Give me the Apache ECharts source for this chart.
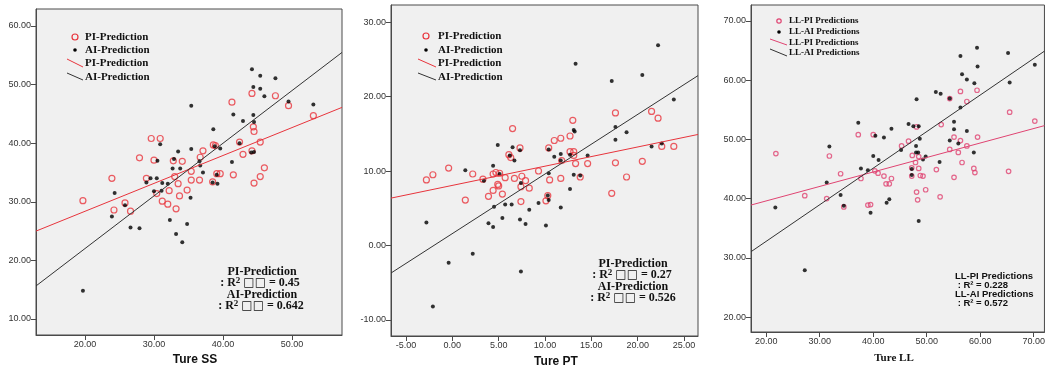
<!DOCTYPE html>
<html>
<head>
<meta charset="utf-8">
<script src="https://cdn.jsdelivr.net/npm/echarts@6/dist/echarts.min.js"></script>
<style>
  html, body { margin: 0; padding: 0; background: #fff; }
  #chart { width: 1048px; height: 370px; }
</style>
</head>
<body>
<div id="chart"></div>
<script>
// panel 1 : Ture SS
const ssPI = [[23.9,34.0],[27.9,37.5],[29.6,40.8],[30.9,40.8],[30.0,37.1],[28.9,34.0],[32.8,37.0],[34.1,36.9],[33.0,34.3],[35.4,35.2],[35.4,33.7],[36.7,37.6],[37.1,38.7],[38.6,39.7],[38.9,39.6],[39.1,34.8],[39.6,34.8],[38.5,33.4],[36.6,33.7],[41.3,47.0],[42.4,40.2],[42.9,38.1],[41.5,34.6],[44.2,48.5],[44.4,42.8],[44.5,42.0],[44.2,38.7],[45.4,40.2],[46.0,35.8],[45.4,34.3],[44.5,33.2],[47.6,48.1],[49.5,46.4],[53.1,44.7],[33.5,33.1],[19.7,30.2],[24.2,28.6],[25.8,29.8],[26.6,28.4],[30.4,31.4],[31.2,30.1],[32.0,29.6],[32.2,31.9],[33.2,28.8],[33.7,31.0],[34.8,32.0]];
const ssAI = [[44.2,52.6],[45.4,51.5],[47.6,51.1],[44.4,49.6],[45.4,49.3],[46.0,48.0],[49.5,47.1],[53.1,46.6],[35.4,46.4],[41.5,44.9],[42.9,43.8],[44.4,44.8],[44.5,43.6],[38.6,42.4],[42.4,40.0],[38.8,39.5],[39.6,39.1],[35.4,39.0],[30.9,39.8],[33.5,38.6],[44.1,38.4],[44.5,38.5],[30.5,37.0],[32.9,37.3],[36.6,36.9],[41.3,36.8],[36.7,36.2],[32.7,35.7],[33.8,35.7],[37.1,35.0],[39.1,34.6],[29.5,34.0],[30.4,34.0],[28.9,33.3],[31.2,33.2],[32.0,33.1],[38.5,33.3],[39.2,33.1],[24.3,31.5],[23.9,27.5],[25.8,29.4],[26.6,25.6],[27.9,25.5],[30.0,31.8],[31.1,31.9],[32.3,26.9],[33.2,24.5],[34.1,23.1],[34.8,26.2],[35.3,30.7],[19.7,14.8]];
// panel 2 : Ture PT
const ptPI = [[-2.8,8.8],[-2.1,9.5],[-0.4,10.4],[2.2,9.6],[3.3,8.9],[4.4,9.6],[4.7,9.8],[5.1,9.7],[5.7,9.1],[4.9,8.2],[6.1,12.2],[6.3,11.8],[6.5,15.7],[7.3,13.1],[6.7,9.0],[7.5,9.3],[7.9,8.7],[9.3,10.0],[10.4,13.1],[10.5,8.8],[11.0,14.1],[11.7,14.4],[11.7,9.0],[11.8,11.4],[12.7,14.7],[13.0,16.8],[12.7,12.6],[13.1,12.6],[13.1,12.1],[13.3,11.0],[13.8,9.2],[14.6,11.0],[17.6,17.8],[17.6,11.1],[18.8,9.2],[20.5,11.3],[21.5,18.0],[22.2,17.1],[22.6,13.3],[23.9,13.3],[1.4,6.1],[3.9,6.6],[4.4,7.4],[5.0,8.0],[5.4,6.9],[7.4,5.9],[7.4,7.9],[8.3,7.7],[10.1,6.0],[10.3,6.7],[17.2,7.0]];
const ptAI = [[1.4,10.1],[3.4,8.7],[4.4,10.7],[4.9,13.5],[5.1,9.6],[6.2,12.1],[6.5,13.2],[6.7,11.4],[7.3,12.8],[7.4,8.4],[10.4,12.9],[10.4,9.7],[11.0,11.9],[11.7,12.3],[11.7,11.4],[12.7,12.2],[13.1,15.5],[13.2,15.3],[13.3,24.4],[13.1,9.5],[13.8,9.4],[14.6,12.1],[17.2,22.1],[17.6,15.9],[17.6,14.2],[18.8,15.2],[20.5,22.9],[21.5,13.3],[22.2,26.9],[22.6,13.7],[23.9,19.6],[-2.8,3.1],[-0.4,-2.3],[-2.1,-8.2],[2.2,-1.1],[3.9,3.0],[4.4,2.5],[4.5,5.2],[5.4,3.7],[5.7,5.5],[6.4,5.5],[7.3,3.5],[7.4,-3.5],[7.9,2.9],[8.3,4.8],[9.3,5.7],[10.1,2.7],[10.3,6.7],[10.4,6.1],[11.7,5.1],[12.7,7.6]];
// panel 3 : Ture LL
const llPI = [[21.8,47.6],[31.8,47.2],[33.9,44.2],[37.2,50.8],[40.0,50.8],[40.3,44.7],[40.9,44.3],[42.0,43.8],[43.4,43.4],[37.7,43.4],[42.4,42.5],[43.0,42.5],[45.3,48.9],[46.6,49.7],[47.3,47.3],[47.2,45.2],[47.9,46.1],[48.1,52.1],[48.5,47.1],[48.5,45.1],[48.8,43.9],[49.3,43.8],[47.2,43.8],[51.8,44.9],[52.7,52.5],[54.3,56.9],[54.3,48.3],[55.1,50.4],[55.1,43.6],[55.9,47.8],[56.3,58.1],[56.3,49.8],[56.6,46.1],[57.5,56.4],[57.5,48.9],[58.8,45.1],[59.0,44.4],[59.4,58.3],[59.5,50.4],[65.5,54.6],[65.3,44.6],[70.2,53.1],[27.2,40.5],[31.3,40.0],[34.5,38.6],[39.0,38.9],[39.5,39.0],[48.1,41.1],[49.8,41.5],[48.3,39.8],[52.5,40.3]];
const llAI = [[31.8,48.8],[31.3,42.7],[37.2,52.8],[37.7,45.1],[39.0,44.8],[40.4,50.6],[40.0,47.2],[41.0,46.5],[42.0,50.3],[43.4,51.8],[45.2,48.2],[46.6,52.6],[47.5,52.2],[48.5,52.2],[48.1,56.8],[48.0,48.9],[48.7,50.1],[48.0,47.8],[48.4,47.8],[49.3,46.6],[49.8,47.1],[47.2,45.0],[47.2,44.0],[51.7,58.0],[52.6,57.7],[52.4,46.2],[54.3,56.9],[54.3,49.8],[55.1,53.0],[55.1,51.7],[55.9,49.3],[56.3,64.1],[56.3,55.4],[56.6,61.0],[57.5,60.1],[57.5,51.4],[58.9,59.5],[58.8,47.8],[59.4,65.5],[59.5,62.3],[65.2,64.6],[65.5,59.6],[70.2,62.6],[21.7,38.5],[27.2,27.9],[33.9,40.6],[34.5,38.8],[39.5,37.6],[42.5,39.3],[43.0,39.9],[48.5,36.2]];

// fit lines [intercept, slope]
const ssFitPI = [18.86, 0.476];
const ssFitAI = [4.05, 0.8985];
const ptFitPI = [8.07, 0.258];
const ptFitAI = [1.6, 0.80];
const llFitPI = [34.72, 0.2445];
const llFitAI = [20.44, 0.6176];

// tick labels
const ssXTicks = [20, 30, 40, 50];
const ssYTicks = [10, 20, 30, 40, 50, 60];
const ptXTicks = [-5, 0, 5, 10, 15, 20, 25];
const ptYTicks = [-10, 0, 10, 20, 30];
const llXTicks = [20, 30, 40, 50, 60, 70];
const llYTicks = [20, 30, 40, 50, 60, 70];

const panels = [
  { grid: { left: 36, right: 706, top: 9, bottom: 35 },
    x: [12.9, 57.25], y: [7.27, 62.9], xt: ssXTicks, yt: ssYTicks,
    pi: ssPI, ai: ssAI, fpi: ssFitPI, fai: ssFitAI,
    red: '#e8343c', r: 6, dot: 4 },
  { grid: { left: 391, right: 350, top: 5, bottom: 34 },
    x: [-6.62, 26.51], y: [-12.15, 32.29], xt: ptXTicks, yt: ptYTicks,
    pi: ptPI, ai: ptAI, fpi: ptFitPI, fai: ptFitAI,
    red: '#e8343c', r: 6, dot: 4 },
  { grid: { left: 751, right: -5, top: 5, bottom: 38 },
    x: [17.15, 72.0], y: [17.47, 72.7], xt: llXTicks, yt: llYTicks,
    pi: llPI, ai: llAI, fpi: llFitPI, fai: llFitAI,
    red: '#e04472', r: 4.5, dot: 4 }
];

const fmt = v => v.toFixed(2);
const grids = [], xAxes = [], yAxes = [], series = [];

panels.forEach((p, i) => {
  grids.push(Object.assign({ show: true, backgroundColor: '#f0f0f0', borderColor: '#4a4a4a', borderWidth: 1 }, p.grid));
  const axisCommon = {
    gridIndex: i,
    type: 'value',
    splitLine: { show: false },
    axisLine: { show: true, onZero: false, lineStyle: { color: '#4a4a4a', width: 1 } },
    axisTick: { show: true, length: 5, lineStyle: { color: '#4a4a4a' } },
    axisLabel: { fontFamily: 'Liberation Sans', fontSize: 9, color: '#333', margin: 5, formatter: fmt }
  };
  xAxes.push(Object.assign({}, axisCommon, {
    min: p.x[0], max: p.x[1],
    axisTick: Object.assign({}, axisCommon.axisTick, { customValues: p.xt }),
    axisLabel: Object.assign({}, axisCommon.axisLabel, { customValues: p.xt })
  }));
  yAxes.push(Object.assign({}, axisCommon, {
    min: p.y[0], max: p.y[1],
    axisTick: Object.assign({}, axisCommon.axisTick, { customValues: p.yt }),
    axisLabel: Object.assign({}, axisCommon.axisLabel, { customValues: p.yt })
  }));
  series.push({
    type: 'scatter', xAxisIndex: i, yAxisIndex: i, data: p.pi,
    symbol: 'circle', symbolSize: p.r,
    itemStyle: { color: 'rgba(0,0,0,0)', borderColor: p.red, borderWidth: 1.2 }
  });
  series.push({
    type: 'scatter', xAxisIndex: i, yAxisIndex: i, data: p.ai,
    symbol: 'circle', symbolSize: p.dot,
    itemStyle: { color: '#000' }
  });
  const fitLine = (f, color) => ({
    type: 'line', xAxisIndex: i, yAxisIndex: i, symbol: 'none', silent: true,
    data: p.x.map(x => [x, f[0] + f[1] * x]),
    lineStyle: { color: color, width: 1 }
  });
  series.push(fitLine(p.fpi, p.red));
  series.push(fitLine(p.fai, '#333'));
});

const serifB = 'bold 11px "Liberation Serif"';
function txt(x, y, text, font, align) {
  return { type: 'text', x: x, y: y, z: 10,
    style: { text: text, font: font, fill: '#111', align: align || 'left', verticalAlign: 'middle' } };
}
// R² line with the missing-glyph boxes seen in the original
function r2(x, y, value) {
  return { type: 'text', x: x, y: y, z: 10,
    style: {
      text: ': R{sup|2} {box|□□} = ' + value,
      font: 'bold 12px "Liberation Serif"', fill: '#111', align: 'center', verticalAlign: 'middle',
      rich: {
        sup: { font: 'bold 9px "Liberation Serif"', fill: '#111', verticalAlign: 'top', lineHeight: 14 },
        box: { font: '12px "DejaVu Sans"', fill: '#111' }
      }
    } };
}
function legend(cx, tx, ys, names, red, r, font, l1, l2) {
  return [
    { type: 'circle', shape: { cx: cx, cy: ys[0], r: r }, z: 10, style: { fill: 'none', stroke: red, lineWidth: 1.2 } },
    { type: 'circle', shape: { cx: cx, cy: ys[1], r: 1.8 }, z: 10, style: { fill: '#000' } },
    { type: 'line', shape: l1, z: 10, style: { stroke: red, lineWidth: 1 } },
    { type: 'line', shape: l2, z: 10, style: { stroke: '#333', lineWidth: 1 } },
    txt(tx, ys[0], names[0], font), txt(tx, ys[1], names[1], font),
    txt(tx, ys[2], names[0], font), txt(tx, ys[3], names[1], font)
  ];
}

const graphic = [].concat(
  legend(75, 85, [37, 50, 63, 77], ['PI-Prediction', 'AI-Prediction'], '#e8343c', 3,
    serifB, { x1: 67, y1: 59, x2: 83, y2: 67 }, { x1: 67, y1: 73, x2: 83, y2: 80 }),
  legend(426, 438, [36, 50, 63, 77], ['PI-Prediction', 'AI-Prediction'], '#e8343c', 3,
    serifB, { x1: 418, y1: 59, x2: 436, y2: 67 }, { x1: 418, y1: 73, x2: 436, y2: 80 }),
  legend(779, 789, [21, 32, 43, 53], ['LL-PI Predictions', 'LL-AI Predictions'], '#e04472', 2.2,
    'bold 9px "Liberation Serif"', { x1: 770, y1: 39, x2: 787, y2: 45 }, { x1: 770, y1: 49, x2: 787, y2: 56 }),
  [
    txt(262, 272, 'PI-Prediction', 'bold 12px "Liberation Serif"', 'center'),
    r2(260, 283, '0.45'),
    txt(262, 295, 'AI-Prediction', 'bold 12px "Liberation Serif"', 'center'),
    r2(261, 306, '0.642'),
    txt(633, 264, 'PI-Prediction', 'bold 12px "Liberation Serif"', 'center'),
    r2(632, 275, '0.27'),
    txt(633, 287, 'AI-Prediction', 'bold 12px "Liberation Serif"', 'center'),
    r2(633, 298, '0.526'),
    txt(955, 276, 'LL-PI Predictions', 'bold 9.5px "Liberation Sans"'),
    txt(955, 285, ' : R² = 0.228', 'bold 9.5px "Liberation Sans"'),
    txt(955, 294, 'LL-AI Predictions', 'bold 9.5px "Liberation Sans"'),
    txt(955, 303, ' : R² = 0.572', 'bold 9.5px "Liberation Sans"'),
    txt(195, 360, 'Ture SS', 'bold 12px "Liberation Sans"', 'center'),
    txt(556, 362, 'Ture PT', 'bold 12px "Liberation Sans"', 'center'),
    txt(894, 358, 'Ture LL', 'bold 11px "Liberation Serif"', 'center')
  ]
);

const chart = echarts.init(document.getElementById('chart'), null, { renderer: 'canvas' });
chart.setOption({
  animation: false,
  grid: grids,
  xAxis: xAxes,
  yAxis: yAxes,
  series: series,
  graphic: graphic
});
</script>
</body>
</html>
